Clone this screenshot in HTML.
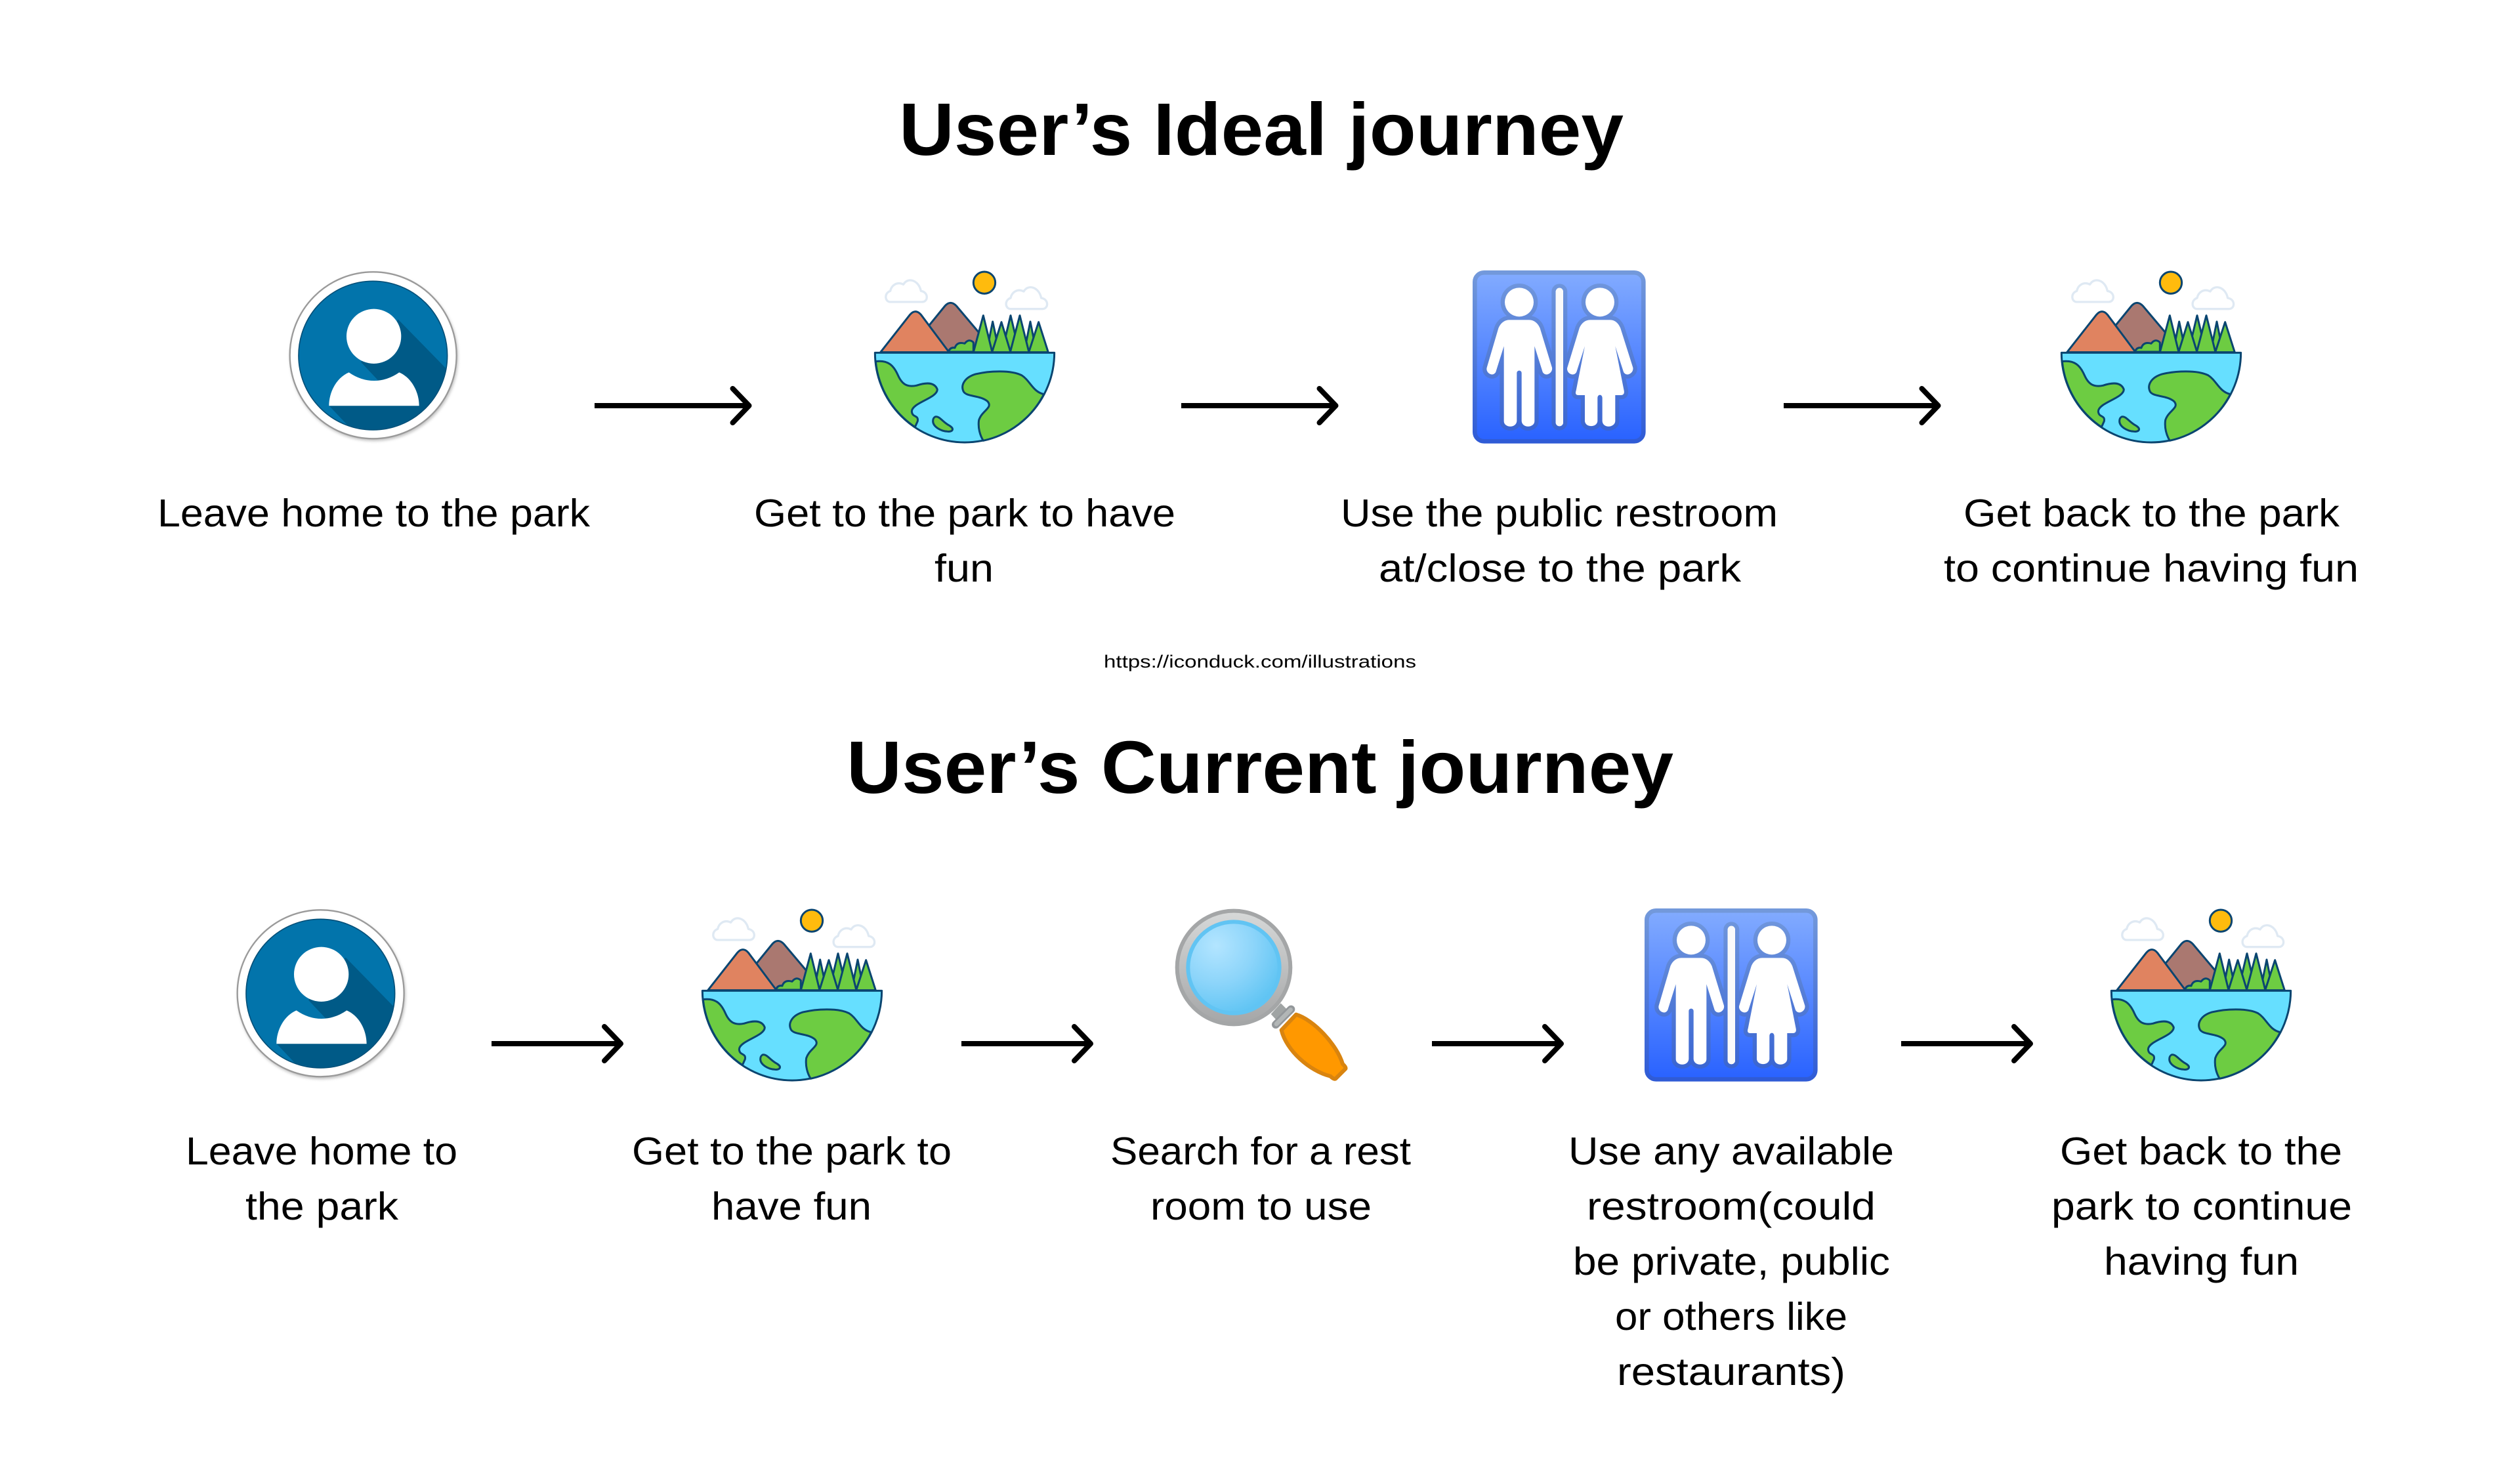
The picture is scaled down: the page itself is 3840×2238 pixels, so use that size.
<!DOCTYPE html>
<html>
<head>
<meta charset="utf-8">
<style>
html,body{margin:0;padding:0;background:#fff;width:3840px;height:2238px;overflow:hidden}
svg{display:block}
text{font-family:"Liberation Sans",sans-serif;fill:#000}
.h{font-weight:700;font-size:113px}
.b{font-size:59px}
.u{font-size:27px}
</style>
</head>
<body>
<svg xmlns="http://www.w3.org/2000/svg" width="3840" height="2238" viewBox="0 0 3840 2238">
<defs>
<clipPath id="pc"><circle cx="505" cy="485" r="338"/></clipPath>
<filter id="sh" x="-10%" y="-10%" width="120%" height="120%"><feGaussianBlur stdDeviation="6"/></filter>
<linearGradient id="rb" x1="0" y1="0" x2="0" y2="1"><stop offset="0" stop-color="#82ABFF"/><stop offset="1" stop-color="#2962FF"/></linearGradient>
<linearGradient id="rs" x1="0" y1="0" x2="0" y2="1"><stop offset="0" stop-color="#7399DB"/><stop offset="1" stop-color="#2F5BD6"/></linearGradient>
<linearGradient id="ro" gradientUnits="userSpaceOnUse" x1="0" y1="130" x2="0" y2="790"><stop offset="0" stop-color="#6E95DC"/><stop offset="1" stop-color="#3B66D2"/></linearGradient>
<linearGradient id="mr" x1="0" y1="0" x2="0" y2="1"><stop offset="0" stop-color="#D6D8D8"/><stop offset="1" stop-color="#A6A7A8"/></linearGradient>
<radialGradient id="ml" cx="0.3" cy="0.25" r="0.85"><stop offset="0" stop-color="#B3E5FF"/><stop offset="0.5" stop-color="#8DD5FA"/><stop offset="1" stop-color="#5CC3F3"/></radialGradient>

<g id="person">
<circle cx="510" cy="492" r="384" fill="#888" opacity=".5" filter="url(#sh)"/>
<circle cx="506" cy="484" r="381" fill="#fff" stroke="#9a9a9a" stroke-width="7"/>
<circle cx="505" cy="485" r="340" fill="#0274AB" stroke="#034f78" stroke-width="5"/>
<g clip-path="url(#pc)">
<polygon points="450,515 620,320 840,545 860,900 390,805 305,715 600,600 530,600" fill="#005A87"/>
</g>
<circle cx="509" cy="397" r="125" fill="#fff"/>
<path d="M304,715C304,650 340,585 395,562Q450,600 510,600Q570,600 625,562C680,585 716,650 716,715Z" fill="#fff"/>
</g>

<g id="earth" stroke-linejoin="round">
<g fill="#fff" stroke="#DFE9F3" stroke-width="10">
<path id="cl" d="M170,240H315C345,240 345,195 310,190C300,140 250,125 230,160C200,145 175,165 170,190C140,200 145,240 170,240Z"/>
<path transform="translate(550,32)" d="M170,240H315C345,240 345,195 310,190C300,140 250,125 230,160C200,145 175,165 170,190C140,200 145,240 170,240Z"/>
</g>
<g stroke="#0A4570" stroke-width="9">
<circle cx="600" cy="152" r="50" fill="#FFBB0D"/>
<path d="M345,350L420,258Q445,230 472,258L575,380L560,470L430,470Z" fill="#AA7870"/>
<path d="M125,470L260,298Q285,270 310,298L435,465V470Z" fill="#E08360"/>
<path d="M435,468Q445,445 465,450Q475,420 510,430Q530,405 550,425V468Z" fill="#6DCC42"/>
<g fill="#6DCC42">
<polygon points="638,330 610,470 668,470"/>
<polygon points="720,302 680,470 760,470"/>
<polygon points="810,330 782,470 838,470"/>
<polygon points="595,302 550,470 636,470"/>
<polygon points="678,332 635,470 720,470"/>
<polygon points="762,302 718,470 804,470"/>
<polygon points="848,332 803,470 892,470"/>
</g>
<path d="M100,472H920A410,410 0 0 1 100,472Z" fill="#66DFFF"/>
<g fill="#6DCC42">
<path d="M103,512C160,505 185,530 205,575C225,620 250,630 290,622C320,612 370,600 385,640C385,680 270,700 268,740C270,770 300,755 295,785L283,812A410,410 0 0 1 103,512Z"/>
<path d="M872,662C820,650 810,600 770,575C720,550 620,555 560,570C510,585 490,620 505,650C520,675 580,665 615,695C640,725 590,735 575,780C570,815 580,850 595,874A410,410 0 0 0 872,662Z"/>
<path d="M375,765C395,760 410,790 440,805C465,820 455,835 430,832C400,830 365,810 365,785C365,772 370,768 375,765Z"/>
</g>
</g>
</g>

<g id="figs">
<circle cx="285" cy="211" r="66"/>
<path d="M240,292H330C355,292 372,310 380,330L435,510C440,535 405,555 392,530L355,412V755C355,785 300,790 296,755V535C296,520 274,520 274,535V755C270,790 215,785 215,755V412L178,530C165,555 130,535 137,510L190,330C198,310 215,292 240,292Z"/>
<rect x="452" y="146" width="34" height="632" rx="17"/>
<circle cx="654" cy="211" r="66"/>
<path d="M610,292H700C725,292 740,310 748,330L805,510C810,535 775,555 762,530L724,412L764,615C767,630 760,636 750,636H724V755C722,785 668,790 665,755V650C665,630 643,630 643,650V755C640,785 588,785 585,755V636H555C545,636 540,630 545,615L585,412L547,530C535,555 498,535 505,510L560,330C568,310 585,292 610,292Z"/>
</g>

<g id="wc">
<rect x="82" y="76" width="771" height="771" rx="42" fill="url(#rb)" stroke="url(#rs)" stroke-width="20"/>
<use href="#figs" fill="url(#ro)" stroke="url(#ro)" stroke-width="38" stroke-linejoin="round"/>
<use href="#figs" fill="#fff"/>
<rect x="452" y="146" width="34" height="632" rx="17" fill="#FAFAFA"/>
</g>

<g id="mag">
<polygon points="530,555 575,505 602,532 555,582" fill="#A0A4A4"/>
<circle cx="360" cy="342" r="268" fill="#A4A6A7"/>
<circle cx="360" cy="342" r="250" fill="url(#mr)"/>
<circle cx="360" cy="342" r="218" fill="#61C4F3"/>
<circle cx="360" cy="342" r="200" fill="url(#ml)"/>
<path d="M645,557C725,580 832,695 858,783Q875,798 871,805L826,850Q818,855 802,839C705,815 600,720 578,628Z" fill="#FF9800" stroke="#D9840F" stroke-width="18" stroke-linejoin="round"/>
<line x1="552" y1="603" x2="622" y2="533" stroke="#93979A" stroke-width="36" stroke-linecap="round"/>
<line x1="555" y1="600" x2="620" y2="535" stroke="#B2B6B6" stroke-width="20" stroke-linecap="round"/>
</g>
</defs>

<rect width="3840" height="2238" fill="#fff"/>

<!-- Headings -->
<text class="h" x="1370" y="236" textLength="1104" lengthAdjust="spacingAndGlyphs">User’s Ideal journey</text>
<text class="h" x="1290" y="1208" textLength="1260" lengthAdjust="spacingAndGlyphs">User’s Current journey</text>
<text class="u" x="1682" y="1017" textLength="476" lengthAdjust="spacingAndGlyphs">https://iconduck.com/illustrations</text>

<!-- Icons row 1 -->
<use href="#person" transform="translate(400,380) scale(.3333)"/>
<use href="#earth" transform="translate(1300,380) scale(.3333)"/>
<use href="#wc" transform="translate(2220,390) scale(.3333)"/>
<use href="#earth" transform="translate(3108,380) scale(.3333)"/>

<!-- Icons row 2 -->
<use href="#person" transform="translate(320,1352) scale(.3333)"/>
<use href="#earth" transform="translate(1037,1352) scale(.3333)"/>
<use href="#mag" transform="translate(1760,1360) scale(.3333)"/>
<use href="#wc" transform="translate(2482,1362) scale(.3333)"/>
<use href="#earth" transform="translate(3184,1352) scale(.3333)"/>

<!-- Arrows -->
<g fill="none" stroke="#000" stroke-width="8">
<path d="M906,618H1141"/><path d="M1116.500,592L1141.500,618L1116.500,644" stroke-linecap="round" stroke-linejoin="round"/>
<path d="M1800,618H2035"/><path d="M2010.500,592L2035.500,618L2010.500,644" stroke-linecap="round" stroke-linejoin="round"/>
<path d="M2718,618H2953"/><path d="M2928.500,592L2953.500,618L2928.500,644" stroke-linecap="round" stroke-linejoin="round"/>
<path d="M749,1590H946"/><path d="M921,1564L946,1590L921,1616" stroke-linecap="round" stroke-linejoin="round"/>
<path d="M1465,1590H1662"/><path d="M1637,1564L1662,1590L1637,1616" stroke-linecap="round" stroke-linejoin="round"/>
<path d="M2182,1590H2379"/><path d="M2354,1564L2379,1590L2354,1616" stroke-linecap="round" stroke-linejoin="round"/>
<path d="M2897,1590H3094"/><path d="M3069,1564L3094,1590L3069,1616" stroke-linecap="round" stroke-linejoin="round"/>
</g>

<!-- Labels row 1 -->
<g class="b">
<text class="b" x="240" y="802" textLength="659" lengthAdjust="spacingAndGlyphs">Leave home to the park</text>
<text class="b" x="1149" y="802" textLength="642" lengthAdjust="spacingAndGlyphs">Get to the park to have</text>
<text class="b" x="1424" y="886" textLength="90" lengthAdjust="spacingAndGlyphs">fun</text>
<text class="b" x="2043" y="802" textLength="666" lengthAdjust="spacingAndGlyphs">Use the public restroom</text>
<text class="b" x="2101" y="886" textLength="552" lengthAdjust="spacingAndGlyphs">at/close to the park</text>
<text class="b" x="2992" y="802" textLength="573" lengthAdjust="spacingAndGlyphs">Get back to the park</text>
<text class="b" x="2962" y="886" textLength="632" lengthAdjust="spacingAndGlyphs">to continue having fun</text>

<!-- Labels row 2 -->
<text class="b" x="283" y="1774" textLength="414" lengthAdjust="spacingAndGlyphs">Leave home to</text>
<text class="b" x="374" y="1858" textLength="233" lengthAdjust="spacingAndGlyphs">the park</text>
<text class="b" x="963" y="1774" textLength="487" lengthAdjust="spacingAndGlyphs">Get to the park to</text>
<text class="b" x="1084" y="1858" textLength="244" lengthAdjust="spacingAndGlyphs">have fun</text>
<text class="b" x="1692" y="1774" textLength="458" lengthAdjust="spacingAndGlyphs">Search for a rest</text>
<text class="b" x="1753" y="1858" textLength="337" lengthAdjust="spacingAndGlyphs">room to use</text>
<text class="b" x="2390" y="1774" textLength="496" lengthAdjust="spacingAndGlyphs">Use any available</text>
<text class="b" x="2418" y="1858" textLength="440" lengthAdjust="spacingAndGlyphs">restroom(could</text>
<text class="b" x="2397" y="1942" textLength="483" lengthAdjust="spacingAndGlyphs">be private, public</text>
<text class="b" x="2461" y="2026" textLength="354" lengthAdjust="spacingAndGlyphs">or others like</text>
<text class="b" x="2464" y="2110" textLength="348" lengthAdjust="spacingAndGlyphs">restaurants)</text>
<text class="b" x="3139" y="1774" textLength="430" lengthAdjust="spacingAndGlyphs">Get back to the</text>
<text class="b" x="3126" y="1858" textLength="458" lengthAdjust="spacingAndGlyphs">park to continue</text>
<text class="b" x="3206" y="1942" textLength="297" lengthAdjust="spacingAndGlyphs">having fun</text>
</g>
</svg>
</body>
</html>
